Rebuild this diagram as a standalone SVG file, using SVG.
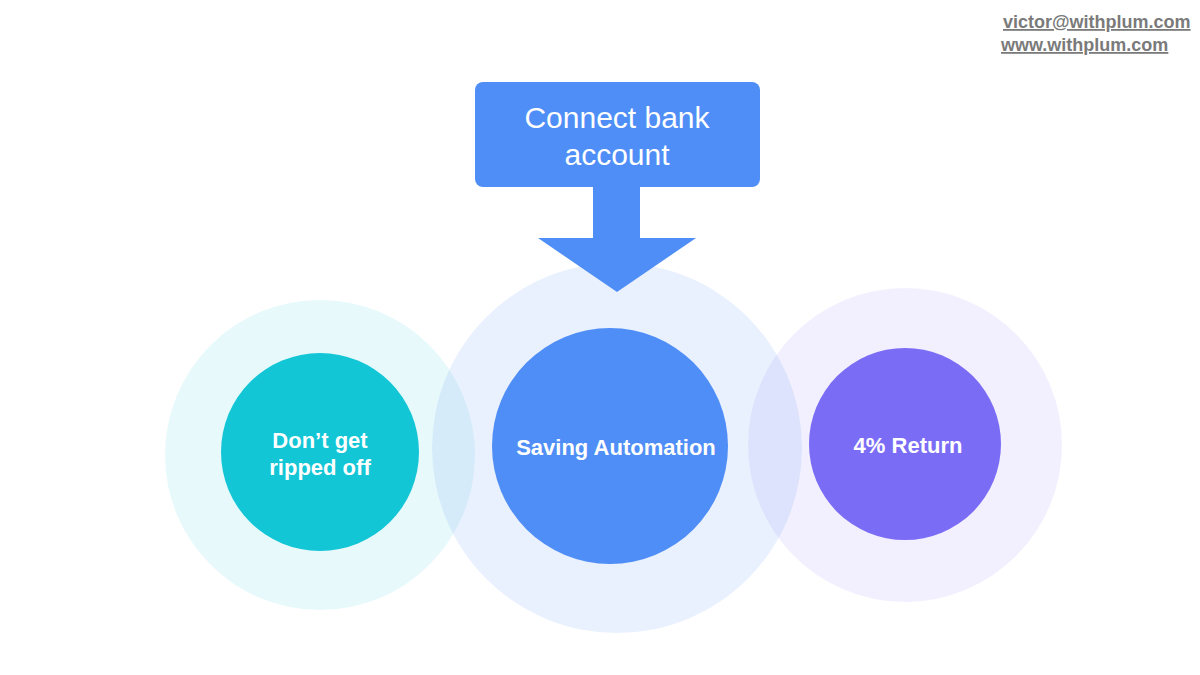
<svg xmlns="http://www.w3.org/2000/svg" width="1200" height="675" viewBox="0 0 1200 675">
<style>
.t{font-family:"Liberation Sans",Arial,sans-serif;fill:#fff;text-anchor:middle}
.b{font-weight:bold;font-size:22px}
.m{fill:#7a7a7a;font-family:"Liberation Sans",Arial,sans-serif;font-size:18px;font-weight:bold;text-decoration:underline}
</style>
<rect width="1200" height="675" fill="#fff"/>
<text class="m" x="1003" y="28">victor@withplum.com</text>
<text class="m" x="1001" y="51">www.withplum.com</text>
<g id="left">
<circle cx="320" cy="455" r="155" fill="#12c6d6" fill-opacity="0.1"/>
<circle cx="320" cy="452" r="99" fill="#12c6d6"/>
<text class="t b" x="320" y="448">Don’t get</text>
<text class="t b" x="320" y="475">ripped off</text>
</g>
<g id="right">
<circle cx="905" cy="445" r="157" fill="#7b6cf6" fill-opacity="0.1"/>
<circle cx="905" cy="444" r="96" fill="#7b6cf6"/>
<text class="t b" x="908" y="453">4% Return</text>
</g>
<g id="middle">
<circle cx="617" cy="448" r="185" fill="#4f8ef7" fill-opacity="0.12"/>
<circle cx="610" cy="446" r="118" fill="#4f8ef7"/>
<text class="t b" x="616" y="455">Saving Automation</text>
</g>
<g id="connectors">
<path d="M593 186 V238 H538 L617 292 L696 238 H640 V186 Z" fill="#4f8ef7"/>
</g>
<g id="top">
<rect x="475" y="82" width="285" height="105" rx="8" fill="#4f8ef7"/>
<text class="t" x="617" y="128" font-size="30">Connect bank</text>
<text class="t" x="617" y="165" font-size="30">account</text>
</g>
</svg>
